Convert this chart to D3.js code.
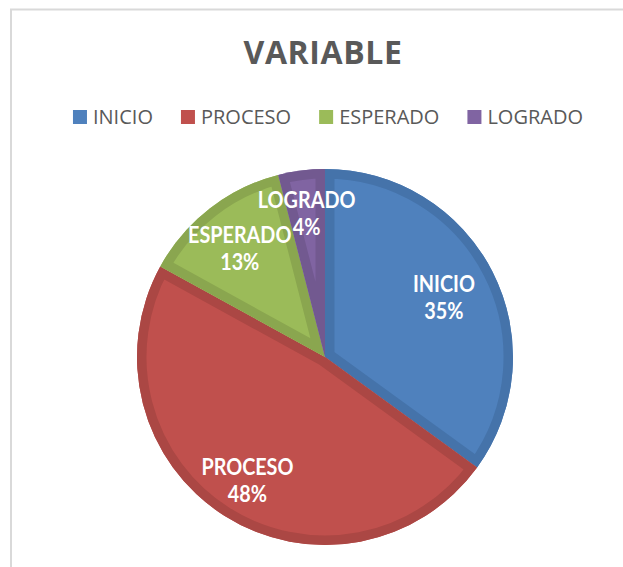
<!DOCTYPE html>
<html>
<head>
<meta charset="utf-8">
<script src="https://cdn.jsdelivr.net/npm/d3@7/dist/d3.min.js"></script>
<style>
  html, body { margin: 0; padding: 0; background: #fff; }
  svg { display: block; }
</style>
</head>
<body>
<svg id="chart" width="623" height="567"></svg>
<script>
// ---- data ----
const title = "VARIABLE";
const categories = ["INICIO", "PROCESO", "ESPERADO", "LOGRADO"];
const values = [35, 48, 13, 4];
const percentLabels = ["35%", "48%", "13%", "4%"];

// ---- styles ----
const fills = ["#4f81bd", "#c0504d", "#9bbb59", "#8064a2"];
const bands = ["#4573aa", "#ab4744", "#8aa64f", "#725990"];
const labelRadius = [0.71, 0.77, 0.74, 0.78];

const cx = 325, cy = 357, R = 188;
const svg = d3.select("#chart");

// chart area border
svg.append("rect")
  .attr("x", 11).attr("y", 9.5)
  .attr("width", 700).attr("height", 700)
  .attr("fill", "none").attr("stroke", "#d9d9d9").attr("stroke-width", 2);

// title
svg.append("text")
  .attr("x", 323).attr("y", 64)
  .attr("text-anchor", "middle")
  .attr("font-family", "'Open Sans', sans-serif")
  .attr("font-weight", 700)
  .attr("font-size", 32)
  .attr("letter-spacing", 0.6)
  .attr("fill", "#595959")
  .text(title);

// legend
const legend = svg.append("g");
const items = legend.selectAll("g").data(categories).join("g");
items.append("rect")
  .attr("width", 14).attr("height", 14)
  .attr("y", 110)
  .attr("fill", (d, i) => fills[i]);
items.append("text")
  .attr("x", 20).attr("y", 124)
  .attr("font-family", "'Open Sans', sans-serif")
  .attr("font-size", 20)
  .attr("fill", "#595959")
  .text(d => d);
let xPos = 0;
const offsets = [];
items.each(function(d, i) {
  const tw = d3.select(this).select("text").node().getComputedTextLength();
  offsets.push(xPos);
  xPos += 20 + tw + 28;
});
const totalW = xPos - 28;
const startX = 328 - totalW / 2;
items.attr("transform", (d, i) => `translate(${startX + offsets[i]},0)`);

// pie
const pie = d3.pie().sort(null).value(d => d)
  .startAngle(0).endAngle(2 * Math.PI);
const arcs = pie(values);
const arc = d3.arc().innerRadius(0).outerRadius(R);

const g = svg.append("g").attr("transform", `translate(${cx},${cy})`);
const defs = svg.append("defs");
arcs.forEach((a, i) => {
  defs.append("clipPath").attr("id", "clip" + i)
    .append("path").attr("d", arc(a));
});
const slices = g.selectAll("g.slice").data(arcs).join("g").attr("class", "slice");
slices.append("path")
  .attr("d", arc)
  .attr("fill", (d, i) => fills[i]);
slices.append("path")
  .attr("d", arc)
  .attr("fill", "none")
  .attr("stroke", (d, i) => bands[i])
  .attr("stroke-width", 19)
  .attr("stroke-linejoin", "miter")
  .attr("clip-path", (d, i) => `url(#clip${i})`);

// data labels (one text element per slice, two lines)
const labels = g.selectAll("g.lab").data(arcs).join("g").attr("class", "lab")
  .attr("transform", (d, i) => {
    const la = d3.arc().innerRadius(R * labelRadius[i]).outerRadius(R * labelRadius[i]);
    const [x, y] = la.centroid(d);
    return `translate(${x},${y}) scale(0.9,1)`;
  });
const lt = labels.append("text")
  .attr("text-anchor", "middle")
  .attr("font-family", "Lato, 'Open Sans', sans-serif")
  .attr("font-weight", 700)
  .attr("font-size", 22)
  .attr("fill", "#ffffff");
lt.append("tspan").attr("x", 0).attr("y", -4).text((d, i) => categories[i]);
lt.append("tspan").attr("x", 0).attr("y", 23).text((d, i) => percentLabels[i]);
</script>
</body>
</html>
